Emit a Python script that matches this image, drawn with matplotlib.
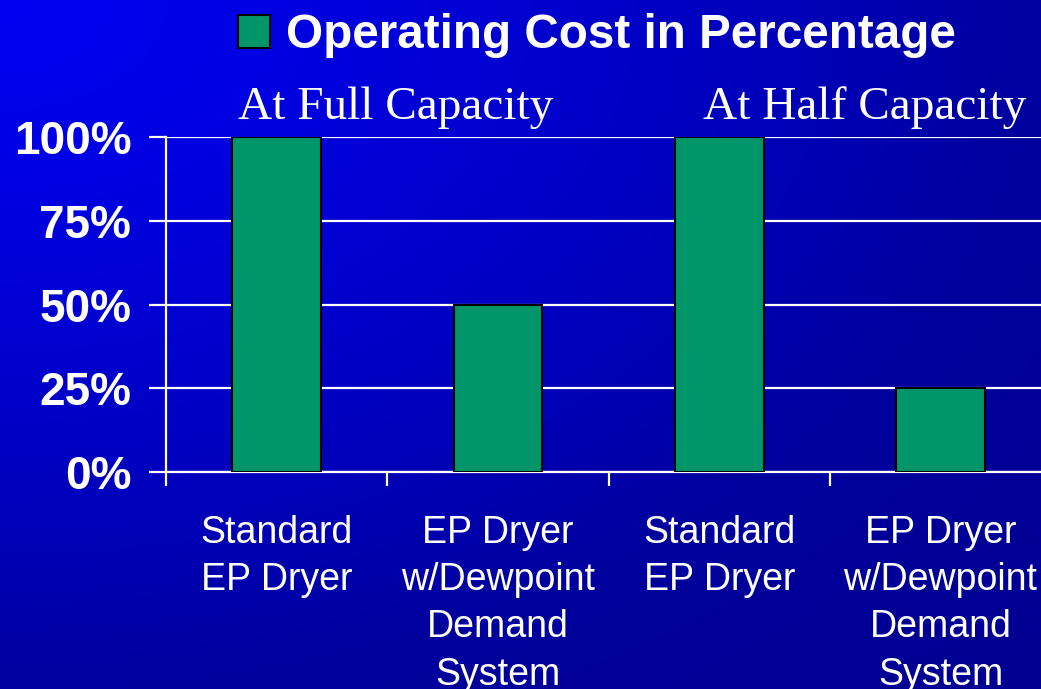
import numpy as np
from matplotlib import pyplot as plt
from matplotlib.patches import Patch
from matplotlib.ticker import FixedLocator, NullFormatter

# data
categories = ["Standard\nEP Dryer", "EP Dryer\nw/Dewpoint\nDemand\nSystem",
              "Standard\nEP Dryer", "EP Dryer\nw/Dewpoint\nDemand\nSystem"]
cost_pct = [100, 50, 100, 25]
group_labels = ["At Full Capacity", "At Half Capacity"]
series_name = "Operating Cost in Percentage"
yticks = [0, 25, 50, 75, 100]

bar_color = "#00966a"

fig = plt.figure(figsize=(10.41, 6.89), dpi=100)

# gradient background (bright blue at top-left, navy towards bottom-right)
bg = fig.add_axes([0, 0, 1, 1], zorder=-10)
h, w = 689, 1041
yy, xx = np.mgrid[0:h, 0:w]
d = np.sqrt((xx / w) ** 2 + (yy / h) ** 2)
b = np.interp(d, [0, 0.25, 0.5, 0.77, 1.0, 1.42], [242, 228, 208, 184, 158, 144]) / 255.0
img = np.zeros((h, w, 3))
img[..., 2] = b
bg.imshow(img, aspect="auto", extent=[0, 1, 0, 1], origin="upper")
bg.axis("off")

ax = fig.add_axes([166 / 1041, 1 - 472 / 689, 4 * 221.3 / 1041, 335 / 689])
ax.patch.set_visible(False)

x = np.arange(len(categories))
ax.bar(x, cost_pct, width=0.4, color=bar_color, edgecolor="black", linewidth=1.5, zorder=3)

ax.set_xlim(-0.5, len(categories) - 0.5)
ax.set_ylim(0, 100)

# y axis
ax.set_yticks(yticks)
ax.set_yticklabels([f"{v}%" for v in yticks], fontsize=33, fontweight="bold",
                   color="white", family="Liberation Sans")
ax.tick_params(axis="y", length=12, width=1.6, color="white", pad=13)
ax.yaxis.grid(True, color="white", linewidth=1.6, zorder=1)

# x axis: ticks at category boundaries, labels at centres
ax.xaxis.set_major_locator(FixedLocator(np.arange(len(categories)) - 0.5))
ax.xaxis.set_major_formatter(NullFormatter())
ax.xaxis.set_minor_locator(FixedLocator(x))
ax.set_xticklabels(categories, minor=True, fontsize=27, color="white",
                   family="Liberation Sans", linespacing=1.4)
ax.tick_params(axis="x", which="major", length=10, width=1.6, color="white")
ax.tick_params(axis="x", which="minor", length=0, pad=31)

for s in ["top", "right"]:
    ax.spines[s].set_visible(False)
for s in ["left", "bottom"]:
    ax.spines[s].set_color("white")
    ax.spines[s].set_linewidth(1.6)

# group captions
ax.text(-0.175, 105.5, group_labels[0], fontsize=34, color="white",
        family="Liberation Serif", va="baseline", ha="left")
ax.text(1.927, 105.5, group_labels[1], fontsize=34, color="white",
        family="Liberation Serif", va="baseline", ha="left")

leg = fig.legend(handles=[Patch(facecolor=bar_color, edgecolor="black", linewidth=1.5,
                                label=series_name)],
                 loc="upper left", bbox_to_anchor=(238 / 1041, 1 - 13 / 689),
                 frameon=False, borderpad=0, borderaxespad=0,
                 handlelength=0.68, handleheight=0.68, handletextpad=0.32,
                 prop={"family": "Liberation Sans", "weight": "bold", "size": 34.3})
for t in leg.get_texts():
    t.set_color("white")

plt.savefig("out.png", dpi=100)
